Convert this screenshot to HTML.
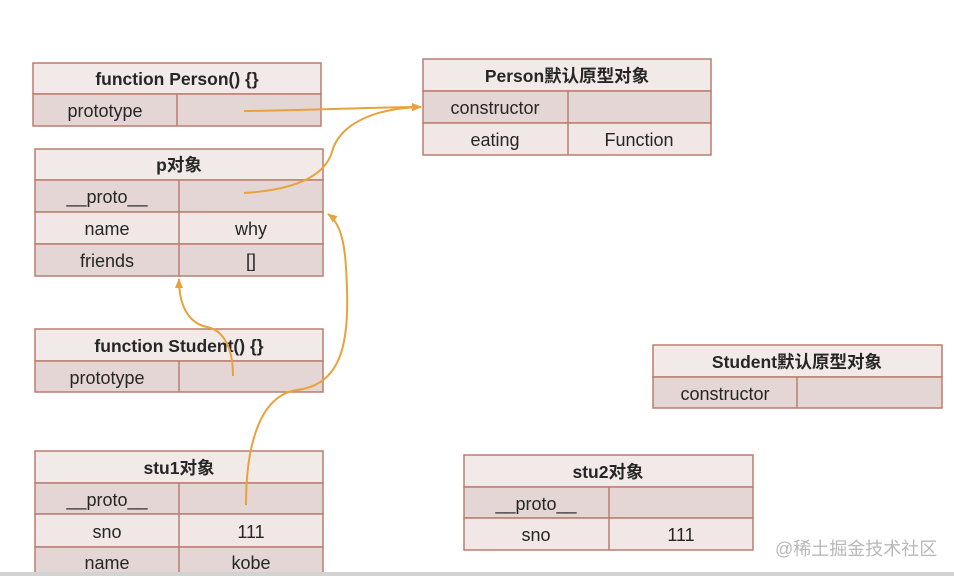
<!DOCTYPE html>
<html>
<head>
<meta charset="utf-8">
<style>
  html,body{margin:0;padding:0;background:#fff;}
  svg{display:block;}
  text{font-family:"Liberation Sans","Noto Sans CJK SC",sans-serif;fill:#262626;}
  .h{font-weight:bold;font-size:17.5px;}
  .r{font-size:18px;}
</style>
</head>
<body>
<svg width="954" height="576" viewBox="0 0 954 576" xmlns="http://www.w3.org/2000/svg">
  <defs>
    <marker id="ah" markerWidth="10" markerHeight="8" refX="9" refY="4" orient="auto" markerUnits="userSpaceOnUse">
      <path d="M0,0 L10,4 L0,8 Z" fill="#e9a23b"/>
    </marker>
  </defs>
  <rect width="954" height="576" fill="#fff"/>

  <g stroke="#b97e6e" stroke-width="1.5">
    <!-- T1 function Person -->
    <rect x="33" y="63" width="288" height="31" fill="#f2eae9"/>
    <rect x="33" y="94" width="288" height="32" fill="#e4d6d4"/>
    <line x1="177" y1="94" x2="177" y2="126"/>

    <!-- p对象 -->
    <rect x="35" y="149" width="288" height="31" fill="#f2eae9"/>
    <rect x="35" y="180" width="288" height="32" fill="#e4d6d4"/>
    <rect x="35" y="212" width="288" height="32" fill="#f1e7e6"/>
    <rect x="35" y="244" width="288" height="32" fill="#e4d6d4"/>
    <line x1="179" y1="180" x2="179" y2="276"/>

    <!-- Person默认原型对象 -->
    <rect x="423" y="59" width="288" height="32" fill="#f2eae9"/>
    <rect x="423" y="91" width="288" height="32" fill="#e4d6d4"/>
    <rect x="423" y="123" width="288" height="32" fill="#f1e7e6"/>
    <line x1="568" y1="91" x2="568" y2="155"/>

    <!-- function Student -->
    <rect x="35" y="329" width="288" height="32" fill="#f2eae9"/>
    <rect x="35" y="361" width="288" height="31" fill="#e4d6d4"/>
    <line x1="179" y1="361" x2="179" y2="392"/>

    <!-- stu1对象 -->
    <rect x="35" y="451" width="288" height="32" fill="#f2eae9"/>
    <rect x="35" y="483" width="288" height="31" fill="#e4d6d4"/>
    <rect x="35" y="514" width="288" height="33" fill="#f1e7e6"/>
    <rect x="35" y="547" width="288" height="33" fill="#e4d6d4"/>
    <line x1="179" y1="483" x2="179" y2="580"/>

    <!-- Student默认原型对象 -->
    <rect x="653" y="345" width="289" height="32" fill="#f2eae9"/>
    <rect x="653" y="377" width="289" height="31" fill="#e4d6d4"/>
    <line x1="797" y1="377" x2="797" y2="408"/>

    <!-- stu2对象 -->
    <rect x="464" y="455" width="289" height="32" fill="#f2eae9"/>
    <rect x="464" y="487" width="289" height="31" fill="#e4d6d4"/>
    <rect x="464" y="518" width="289" height="32" fill="#f1e7e6"/>
    <line x1="609" y1="487" x2="609" y2="550"/>
  </g>

  <!-- texts -->
  <g text-anchor="middle">
    <text class="h" x="177" y="85">function Person() {}</text>
    <text class="r" x="105" y="117">prototype</text>

    <text class="h" x="179" y="171">p对象</text>
    <text class="r" x="107" y="203">__proto__</text>
    <text class="r" x="107" y="235">name</text>
    <text class="r" x="251" y="235">why</text>
    <text class="r" x="107" y="267">friends</text>
    <text class="r" x="251" y="267">[]</text>

    <text class="h" x="567" y="82">Person默认原型对象</text>
    <text class="r" x="495" y="114">constructor</text>
    <text class="r" x="495" y="146">eating</text>
    <text class="r" x="639" y="146">Function</text>

    <text class="h" x="179" y="352">function Student() {}</text>
    <text class="r" x="107" y="384">prototype</text>

    <text class="h" x="179" y="474">stu1对象</text>
    <text class="r" x="107" y="506">__proto__</text>
    <text class="r" x="107" y="538">sno</text>
    <text class="r" x="251" y="538">111</text>
    <text class="r" x="107" y="569">name</text>
    <text class="r" x="251" y="569">kobe</text>

    <text class="h" x="797" y="368">Student默认原型对象</text>
    <text class="r" x="725" y="400">constructor</text>

    <text class="h" x="608" y="478">stu2对象</text>
    <text class="r" x="536" y="541">sno</text>
    <text class="r" x="536" y="510">__proto__</text>
    <text class="r" x="681" y="541">111</text>
  </g>

  <!-- arrows -->
  <g fill="none" stroke="#e9a23b" stroke-width="2">
    <path d="M244,111 C 320,110 380,107 421,107" marker-end="url(#ah)"/>
    <path d="M244,193 C 292,190 324,178 332,152 C 340,122 378,108 421,107" marker-end="url(#ah)"/>
    <path d="M233,376 C 233,345 222,330 207,327 C 188,323 179,305 179,279" marker-end="url(#ah)"/>
    <path d="M246,505 C 246,440 262,395 297,390 C 340,385 349,345 347,290 C 346,250 343,225 328,214" marker-end="url(#ah)"/>
  </g>

  <!-- watermark -->
  <text x="775" y="555" style="font-size:18px;fill:#b8b8b8;">@稀土掘金技术社区</text>

  <!-- bottom gray bar -->
  <rect x="0" y="572" width="954" height="4" fill="#d3d3d3"/>
</svg>
</body>
</html>
